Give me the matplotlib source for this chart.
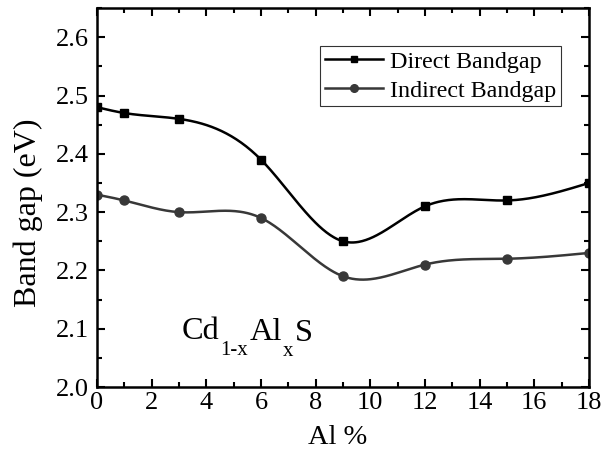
import numpy as np
import matplotlib
matplotlib.use("Agg")
import matplotlib.pyplot as plt
from matplotlib.ticker import MultipleLocator

al_pct = [0, 1, 3, 6, 9, 12, 15, 18]
direct_gap = [2.48, 2.47, 2.46, 2.39, 2.25, 2.31, 2.32, 2.35]
indirect_gap = [2.33, 2.32, 2.30, 2.29, 2.19, 2.21, 2.22, 2.23]
x_ticks = [0, 2, 4, 6, 8, 10, 12, 14, 16, 18]
y_ticks = [2.0, 2.1, 2.2, 2.3, 2.4, 2.5, 2.6]


def natural_spline(x, y, n=400):
    x = np.asarray(x, float); y = np.asarray(y, float)
    k = len(x); h = np.diff(x)
    A = np.zeros((k, k)); b = np.zeros(k)
    A[0, 0] = A[-1, -1] = 1
    for i in range(1, k - 1):
        A[i, i - 1] = h[i - 1]; A[i, i] = 2 * (h[i - 1] + h[i]); A[i, i + 1] = h[i]
        b[i] = 6 * ((y[i + 1] - y[i]) / h[i] - (y[i] - y[i - 1]) / h[i - 1])
    M = np.linalg.solve(A, b)
    xs = np.linspace(x[0], x[-1], n)
    idx = np.clip(np.searchsorted(x, xs) - 1, 0, k - 2)
    x0, x1 = x[idx], x[idx + 1]; hh = x1 - x0
    t0 = x1 - xs; t1 = xs - x0
    ys = (M[idx] * t0**3 / (6 * hh) + M[idx + 1] * t1**3 / (6 * hh)
          + (y[idx] / hh - M[idx] * hh / 6) * t0 + (y[idx + 1] / hh - M[idx + 1] * hh / 6) * t1)
    return xs, ys


plt.rcParams['font.family'] = ['Liberation Serif', 'DejaVu Serif']

fig = plt.figure(figsize=(6.06, 4.5), dpi=100)
ax = fig.add_axes([0.160, 0.140, 0.812, 0.842])

c_dir = '#000000'
c_ind = '#383838'
xs, ys = natural_spline(al_pct, direct_gap)
ax.plot(xs, ys, color=c_dir, lw=1.8)
ax.plot(al_pct, direct_gap, 's', color=c_dir, ms=6)
xs, ys = natural_spline(al_pct, indirect_gap)
ax.plot(xs, ys, color=c_ind, lw=1.8)
ax.plot(al_pct, indirect_gap, 'o', color=c_ind, ms=6.5)

# legend proxies
ax.plot([], [], '-s', color=c_dir, lw=1.8, ms=5, label='Direct Bandgap')
ax.plot([], [], '-o', color=c_ind, lw=1.8, ms=5.5, label='Indirect Bandgap')
leg = ax.legend(loc='upper right', bbox_to_anchor=(0.943, 0.90), fontsize=17.3,
                frameon=True, fancybox=False, handlelength=2.4, handletextpad=0.3,
                borderpad=0.2, labelspacing=0.3, borderaxespad=0)
leg.get_frame().set_edgecolor('black')
leg.get_frame().set_linewidth(0.8)

ax.set_xlim(0, 18)
ax.set_ylim(2.0, 2.65)
ax.set_xticks(x_ticks)
ax.set_yticks(y_ticks)
ax.set_yticklabels([f'{v:.1f}' for v in y_ticks])
ax.xaxis.set_minor_locator(MultipleLocator(1))
ax.yaxis.set_minor_locator(MultipleLocator(0.05))
ax.tick_params(which='both', direction='in', top=True, right=True, width=1.5, labelsize=19)
ax.tick_params(which='major', length=6)
ax.tick_params(which='minor', length=3.5)
ax.tick_params(axis='x', pad=3.5)
ax.tick_params(axis='y', pad=6)
for s in ax.spines.values():
    s.set_linewidth(1.8)

ax.set_xlabel('Al %', fontsize=20.5)
ax.xaxis.set_label_coords(0.49, -0.100)
ax.set_ylabel('Band gap (eV)', fontsize=23)
ax.yaxis.set_label_coords(-0.110, 0.46)

# Cd_{1-x}Al_xS composed from pieces
t1 = ax.text(3.1, 2.0825, 'Cd', fontsize=23.3, va='baseline', ha='left')
t2 = ax.annotate('1-x', xy=(1, 0), xycoords=t1, xytext=(0.8, -6.3),
                 textcoords='offset points', fontsize=15, va='baseline', ha='left')
t3 = ax.annotate('Al', xy=(1, 0), xycoords=t2, xytext=(0.6, 14.3),
                 textcoords='offset points', fontsize=23.3, va='baseline', ha='left')
t4 = ax.annotate('x', xy=(1, 0), xycoords=t3, xytext=(1.0, -6.3),
                 textcoords='offset points', fontsize=15, va='baseline', ha='left')
t5 = ax.annotate('S', xy=(1, 0), xycoords=t4, xytext=(0.8, 14.3),
                 textcoords='offset points', fontsize=23.3, va='baseline', ha='left')

fig.savefig('out.png', dpi=100)
